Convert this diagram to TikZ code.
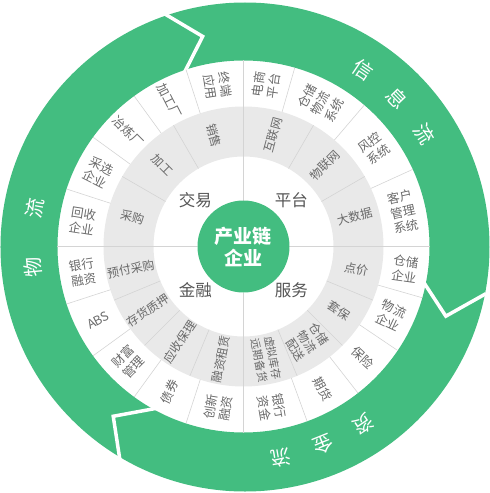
\documentclass[tikz,border=0pt]{standalone}
\usepackage{fontspec}
\setmainfont{Noto Sans CJK SC}
\usepackage{tikz}
\definecolor{flowgreen}{RGB}{67,189,128}
\definecolor{ringgray}{RGB}{233,233,233}
\definecolor{segline}{RGB}{212,212,212}
\definecolor{lbltext}{RGB}{105,105,105}
\definecolor{hubtext}{RGB}{85,85,85}
% white notch between two flow arrows: inner angle, tip angle, outer angle
\newcommand{\flowgap}[3]{%
  \draw[white,line width=3.5pt] (#1:183) -- (#2:214) -- (#3:247);}

\begin{document}
\begin{tikzpicture}[x=1pt,y=1pt,line cap=butt,line join=miter,
  every node/.append style={inner sep=0pt,align=center},
  flowtext/.style={text=white,font=\fontsize{20}{20}\selectfont},
  midlbl/.style={text=lbltext,font=\fontsize{12}{14}\selectfont},
  outlbl/.style={text=lbltext,font=\fontsize{12.5}{15}\selectfont},
  hublbl/.style={text=hubtext,font=\fontsize{16.5}{18}\selectfont},
  divider/.style={segline,line width=0.6pt},
  hub/.style={circle,fill=flowgreen,minimum size=92pt,text=white,
    font=\bfseries\fontsize{19}{22}\selectfont}]
\useasboundingbox (-243.5,-246.5) rectangle (246.5,246.5);

% ============================= flow ring ==============================
\fill[flowgreen,even odd rule] (1.5,-0.5) circle[radius=244.5] (0,0) circle[radius=186];
\flowgap{109}{101}{109}
\flowgap{-11}{-19}{-11}
\flowgap{242}{232.5}{240}

\foreach \a/\c [count=\i] in {56/信,44/息,32/流}
  \node[flowtext,rotate=\a-90] (info\i) at (\a:213) {\c};
\foreach \a/\c [count=\i] in {-56/资,-68/金,-80/流}
  \node[flowtext,rotate=\a-90] (fund\i) at (\a:214) {\c};
\foreach \a/\c [count=\i] in {185.5/物,169.5/流}
  \node[flowtext,rotate=\a-90] (goods\i) at (\a:212) {\c};

% ============================= gray ring ==============================
\fill[ringgray,even odd rule] (0,0) circle[radius=140] (0,0) circle[radius=90];

% ============================== dividers ==============================
\foreach \a in {120,150,30,60,-22.5,-45,-67.5,202.5,225,247.5}
  \draw[divider] (\a:90) -- (\a:140);
\foreach \a in {108,126,144,162,74,49.5,24.5,-16,-34,-52,-70,198,216,234,252}
  \draw[divider] (\a:140) -- (\a:186);
\foreach \a in {0,90,180,270}
  \draw[divider] (\a:46) -- (\a:186);

% ========================= gray ring labels ===========================
\foreach \a/\t [count=\i] in {105/销售,135/加工,165/采购,191.25/预付采购,
    213.75/存货质押,236.25/应收保理,258.75/融资租赁}
  \node[midlbl,rotate=\a-180] (midl\i) at (\a:115) {\t};
\foreach \a/\t [count=\i] in {75/互联网,45/物联网,15/大数据,-11.25/点价,
    -33.75/套保,-56.25/仓储\\物流\\配送}
  \node[midlbl,rotate=\a] (midr\i) at (\a:115) {\t};
\node[midlbl,font=\fontsize{11}{14}\selectfont,rotate=-78.75] (midr7)
  at (-78.75:115) {虚拟库存\\远期备货};

% ========================= outer ring labels ==========================
\foreach \a/\t [count=\i] in {99/终端\\应用,117/加工厂,135/冶炼厂,153/采选\\企业,
    171/回收\\企业,189/银行\\融资,207/ABS,225/财富\\管理,243/债券,261/创新\\融资}
  \node[outlbl,rotate=\a-180] (outl\i) at (\a:163) {\t};
\foreach \a/\t [count=\i] in {82/电商\\平台,61.75/仓储\\物流\\系统,37/风控\\系统,
    12.25/客户\\管理\\系统,-8/仓储\\企业,-25/物流\\企业,-43/保险,-61/期货,
    -80/银行\\资金}
  \node[outlbl,rotate=\a] (outr\i) at (\a:163) {\t};

% ================================ hub =================================
\node[hub] (hub) at (0,0) {产业链\\企业};
\node[hublbl] (trade)   at (-48,46)  {交易};
\node[hublbl] (platf)   at (48,46)   {平台};
\node[hublbl] (finance) at (-48,-44) {金融};
\node[hublbl] (service) at (48,-44)  {服务};

\end{tikzpicture}
\end{document}
